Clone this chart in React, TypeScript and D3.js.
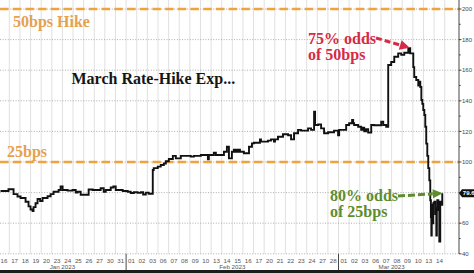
import React from "react";
import * as d3 from "d3";

// Trading-day tick labels (Jan 16 .. Mar 14, 2023)
const dayLabels = [
  "16", "17", "18", "19", "20", "23", "24", "25", "26", "27", "30", "31",
  "01", "02", "03", "06", "07", "08", "09", "10", "13", "14", "15", "16", "17", "20", "21", "22", "23", "24", "27", "28",
  "01", "02", "03", "06", "07", "08", "09", "10", "13", "14",
];
const monthLabels = ["Jan 2023", "Feb 2023", "Mar 2023"];
const monthFirstDay = [0, 12, 32];
const monthLastDay = [11, 31, 41];

const yTicks = [40, 60, 80, 100, 120, 140, 160, 180, 200];
const yMinorTicks = [50, 70, 90, 110, 130, 150, 170, 190];
const hikeLevels = [200, 100];
const hikeLabels = ["50bps Hike", "25bps"];

// Intraday series: position in trading days, and implied bps of hike
const lineT = [
  -0.33, 0.42, 0.9, 1.27, 1.56, 2.03, 2.31, 2.5, 2.69, 2.78, 2.97, 3.16, 3.4, 3.63, 4.1, 4.39, 4.67,
  5.14, 5.33, 5.52, 5.99, 6.46, 6.75, 6.93, 7.22, 7.97, 8.35, 9.1, 9.39, 9.58, 10.05, 10.3, 10.52,
  11.18, 11.65, 11.93, 12.22, 12.59, 12.88, 13.1, 13.35, 13.63, 14.01, 14.1, 14.48, 14.76, 15.05,
  15.24, 15.52, 15.9, 16.18, 16.65, 17.59, 17.88, 18.54, 19.2, 19.29, 19.76, 19.95, 20.71, 20.99,
  21.18, 21.46, 21.65, 21.75, 21.93, 22.02, 22.12, 22.22, 22.59, 23.07, 23.35, 23.54, 24.1, 24.2,
  24.86, 25.14, 25.42, 25.52, 25.8, 26.27, 26.75, 27.03, 27.31, 27.69, 27.97, 28.63, 28.92, 29.2,
  29.29, 29.58, 29.86, 30.14, 30.52, 31.08, 31.46, 31.56, 32.22, 32.5, 32.78, 32.88, 32.97, 33.35,
  33.63, 33.8, 33.92, 34.1, 34.29, 34.58, 34.86, 35.52, 35.71, 35.99, 36.18, 36.46, 36.75, 37.12,
  37.41, 37.69, 38.07, 38.25, 38.54, 38.63, 38.82, 39.01, 39.1, 39.2, 39.3, 39.39, 39.48, 39.58,
  39.67, 39.76, 39.86, 39.95, 40.05, 40.14, 40.2, 40.24, 40.28, 40.33, 40.42, 40.52, 40.61, 40.71,
  40.76, 40.8, 40.9, 40.99, 41.08, 41.18, 41.27,
];
const lineV = [
  81, 82.2, 79, 77.5, 76.5, 74, 71, 69, 68, 70.5, 73, 75.8, 74.5, 76.5, 77.6, 79, 80.6,
  81.7, 84, 81.7, 81.3, 81.7, 80, 80.6, 78.6, 82, 81.7, 82.8, 80.6, 81.7, 83.3, 84, 81.7,
  81, 80.6, 79.7, 80.2, 79.8, 80.2, 78.8, 80, 79.2, 94.8, 96, 97, 98, 99,
  100.5, 102, 104, 102.4, 104, 103.5, 104, 104.6, 101.8, 104.6, 106, 104.6, 106.7, 110,
  102.4, 106.7, 108, 106.7, 108, 106.7, 108, 106.7, 105.7, 110, 112.2, 112.6, 114.8, 113.3,
  114, 114.8, 113.3, 114.8, 116.5, 118.1, 117.5, 114.8, 118.8, 121, 120.5, 122, 121, 132.9,
  124.2, 124.5, 122, 118.8, 119.4, 120.5, 117.5, 121, 124.2, 125.3, 127.5, 125.3, 124.2, 123,
  121, 122.5, 120, 121.5, 119.2, 124.2, 124, 126.3, 124.2, 123, 163.4, 165.4, 168.8, 171,
  170, 171.4, 174.3, 171, 162, 155.6, 153.6, 150, 152.5, 149, 140.5, 138, 134, 130.7,
  123, 112, 104, 96, 88, 75, 64, 52, 72, 60, 73, 74, 66, 52,
  70, 75, 68.6, 48, 74, 72, 79.6,
];
const lastValueLabel = "79.6";

const W = 474;
const H = 273;
const PLOT_RIGHT = 459;
const SERIF = "'Liberation Serif', 'Times New Roman', serif";
const SANS = "'Liberation Sans', Arial, sans-serif";

function arrowHead(x0: number, y0: number, x1: number, y1: number, len: number, half: number) {
  const dx = x1 - x0;
  const dy = y1 - y0;
  const d = Math.hypot(dx, dy);
  const ux = dx / d;
  const uy = dy / d;
  const bx = x1 - ux * len;
  const by = y1 - uy * len;
  const pts = [
    [x1, y1],
    [bx - uy * half, by + ux * half],
    [bx + uy * half, by - ux * half],
  ];
  return { base: [bx, by], points: pts.map((p) => p.join(",")).join(" ") };
}

export default function App() {
  const x = d3.scaleLinear().domain([0, 41]).range([4, 439.4]);
  const y = d3.scaleLinear().domain([40, 200]).range([253.8, 9]);
  const bottom = y(40);

  const data: [number, number][] = lineT.map((t, i) => [t, lineV[i]]);
  const line = d3
    .line<[number, number]>()
    .x((d) => x(d[0]))
    .y((d) => y(d[1]))
    .curve(d3.curveStepAfter);

  // annotation anchors from data
  let peakI = 0;
  lineV.forEach((v, i) => {
    if (v > lineV[peakI]) peakI = i;
  });
  const peakX = x(lineT[peakI]);
  const peakY = y(lineV[peakI]);
  const lastX = x(lineT[lineT.length - 1]) + 0.5;
  const lastY = y(lineV[lineV.length - 1]);

  const redStart: [number, number] = [376, 38];
  const red = arrowHead(redStart[0], redStart[1], peakX + 1.5, peakY - 0.5, 10, 5);
  const greenStart: [number, number] = [398, 196];
  const green = arrowHead(greenStart[0], greenStart[1], lastX, lastY, 10, 4.5);

  const gridDays = d3.range(0, 42).map((i) => i + 0.5);

  return (
    <div style={{ position: "absolute", left: 0, top: 0, width: W, height: H }}>
      <svg width={W} height={H} viewBox={`0 0 ${W} ${H}`} style={{ display: "block", background: "#fff" }}>
        <defs>
          <clipPath id="plotClip">
            <rect x={0} y={0} width={PLOT_RIGHT} height={bottom + 1} />
          </clipPath>
        </defs>
        <rect x={0} y={0} width={W} height={H} fill="#fff" />

        {/* vertical day grid */}
        {gridDays.map((g) => (
          <line key={"vg" + g} x1={x(g)} x2={x(g)} y1={0} y2={bottom} stroke="#dcdcdc" strokeWidth={0.9} />
        ))}

        {/* horizontal dotted grid */}
        {yTicks.map((t) => (
          <line
            key={"hg" + t}
            x1={0}
            x2={PLOT_RIGHT}
            y1={y(t)}
            y2={y(t)}
            stroke="#9a9a9a"
            strokeWidth={0.8}
            strokeDasharray="1 1.6"
          />
        ))}

        {/* hike levels */}
        {hikeLevels.map((h) => (
          <line
            key={"hk" + h}
            x1={0}
            x2={PLOT_RIGHT}
            y1={y(h)}
            y2={y(h)}
            stroke="#EEA33F"
            strokeWidth={2.6}
            strokeDasharray="8.5 4.2"
          />
        ))}
        <text x={13} y={y(hikeLevels[0]) + 18.3} fontFamily={SERIF} fontWeight="bold" fontSize={16} fill="#E4A24F">
          {hikeLabels[0]}
        </text>
        <text x={7} y={y(hikeLevels[1]) - 5} fontFamily={SERIF} fontWeight="bold" fontSize={16} fill="#E4A24F">
          {hikeLabels[1]}
        </text>

        <text x={71.5} y={84} fontFamily={SERIF} fontWeight="bold" fontSize={16} fill="#151515">
          March Rate-Hike Exp...
        </text>

        {/* series */}
        <g clipPath="url(#plotClip)">
          <path d={line(data) || ""} fill="none" stroke="#111" strokeWidth={1.9} strokeLinejoin="miter" />
        </g>

        {/* red annotation */}
        <text fontFamily={SERIF} fontWeight="bold" fontSize={16} fill="#D42C45">
          <tspan x={308} y={44}>75% odds</tspan>
          <tspan x={308} y={60}>of 50bps</tspan>
        </text>
        <line
          x1={redStart[0]}
          y1={redStart[1]}
          x2={red.base[0]}
          y2={red.base[1]}
          stroke="#D42C45"
          strokeWidth={3}
          strokeDasharray="6 3"
        />
        <polygon points={red.points} fill="#D42C45" />

        {/* green annotation */}
        <text fontFamily={SERIF} fontWeight="bold" fontSize={16} fill="#5E8D2E">
          <tspan x={330} y={201}>80% odds</tspan>
          <tspan x={330} y={217}>of 25bps</tspan>
        </text>
        <line
          x1={greenStart[0]}
          y1={greenStart[1]}
          x2={green.base[0]}
          y2={green.base[1]}
          stroke="#5E8D2E"
          strokeWidth={3}
          strokeDasharray="7 3"
        />
        <polygon points={green.points} fill="#5E8D2E" />

        {/* right axis */}
        <line x1={PLOT_RIGHT} x2={PLOT_RIGHT} y1={0} y2={bottom} stroke="#333" strokeWidth={0.9} />
        {yMinorTicks.map((t) => (
          <line key={"mt" + t} x1={PLOT_RIGHT} x2={PLOT_RIGHT + 1.8} y1={y(t)} y2={y(t)} stroke="#333" strokeWidth={0.8} />
        ))}
        {yTicks.map((t) => (
          <g key={"yt" + t}>
            <line x1={PLOT_RIGHT} x2={PLOT_RIGHT + 2.5} y1={y(t)} y2={y(t)} stroke="#333" strokeWidth={0.9} />
            {Math.abs(y(t) - lastY) > 6 && (
              <text x={PLOT_RIGHT + 3} y={y(t) + 2.1} fontFamily={SANS} fontSize={6} fill="#444">
                {t}
              </text>
            )}
          </g>
        ))}

        {/* last value tag */}
        <path
          d={`M${PLOT_RIGHT},${lastY} L${PLOT_RIGHT + 3},${lastY - 4} H${W} V${lastY + 4} H${PLOT_RIGHT + 3} Z`}
          fill="#111"
        />
        <text x={PLOT_RIGHT + 3.8} y={lastY + 2.1} fontFamily={SANS} fontSize={6} fontWeight="bold" fill="#fff">
          {lastValueLabel}
        </text>

        {/* x axis labels */}
        {dayLabels.map((lab, i) => (
          <text key={"dl" + i} x={x(i)} y={262.5} textAnchor="middle" fontFamily={SANS} fontSize={6.2} fill="#555">
            {lab}
          </text>
        ))}
        {monthLastDay.slice(0, 2).map((d, i) => (
          <line key={"ms" + i} x1={x(d + 0.5)} x2={x(d + 0.5)} y1={bottom} y2={270} stroke="#333" strokeWidth={0.9} />
        ))}
        {monthLabels.map((m, i) => (
          <text
            key={"ml" + i}
            x={(x(monthFirstDay[i] - 0.5) + x(monthLastDay[i] + 0.5)) / 2}
            y={269.2}
            textAnchor="middle"
            fontFamily={SANS}
            fontSize={6.2}
            fill="#555"
          >
            {m}
          </text>
        ))}

        <rect x={0} y={270} width={W} height={H - 270} fill="#1c1c1c" />
      </svg>
    </div>
  );
}
